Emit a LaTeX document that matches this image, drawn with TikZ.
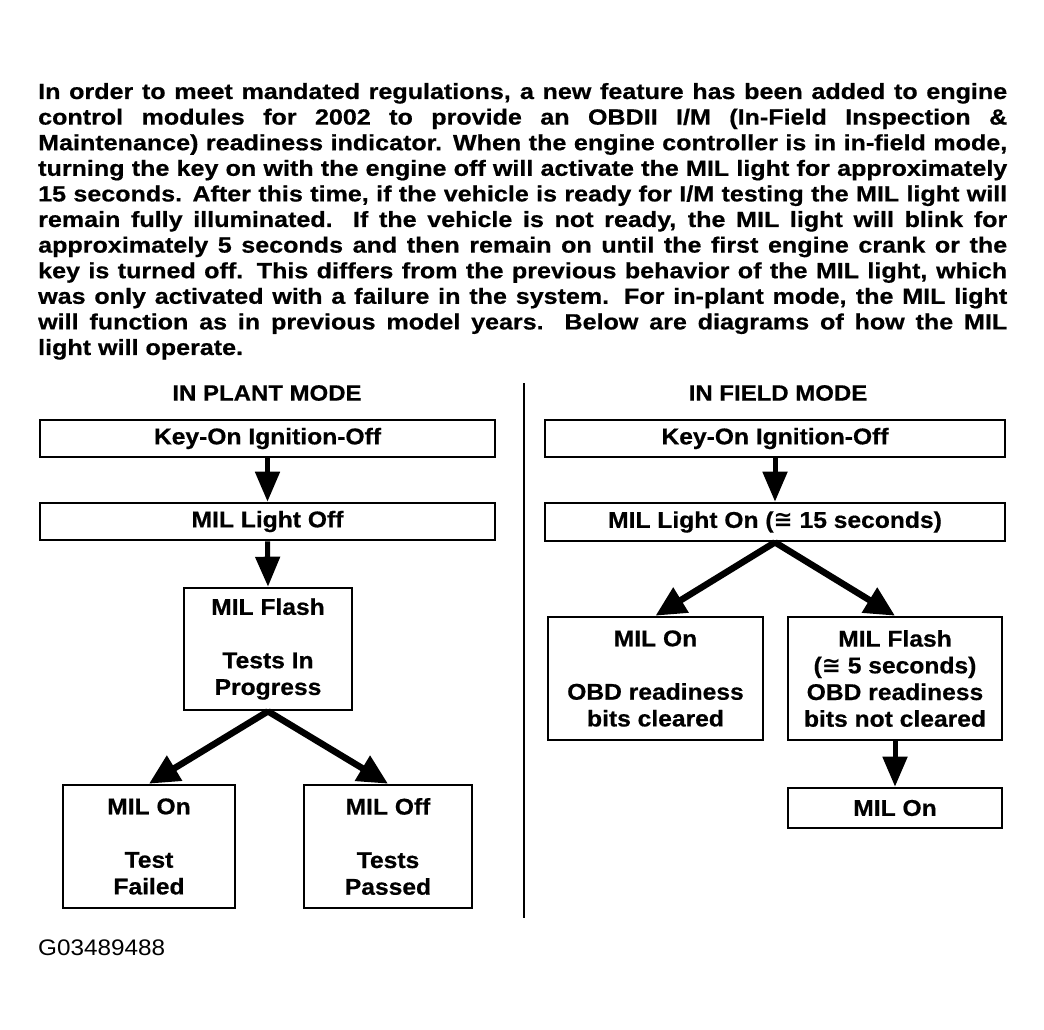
\documentclass[tikz,border=0pt]{standalone}
\usepackage{fontspec}
\setmainfont{Liberation Sans}[FakeStretch=1.08,BoldFeatures={FakeBold=0.6}]
\newfontfamily\parafont{Liberation Sans}[FakeStretch=1.14,BoldFeatures={FakeBold=0.6}]
\newfontfamily\symfont{DejaVu Sans}
\usetikzlibrary{arrows.meta}
\newcommand{\approxsym}{{\symfont\bfseries ≅}}
\begin{document}
\begin{tikzpicture}[x=1pt,y=-1pt,
  box/.style={draw, line width=2.6pt, inner sep=0pt, align=center,
    font=\fontsize{22.8}{26.7}\selectfont\bfseries},
  title/.style={font=\fontsize{22.2}{25}\selectfont\bfseries, inner sep=0pt},
  arr/.style={line width=5pt, -{Triangle[width=24pt,length=30pt]}},
  darr/.style={line width=6.5pt, -{Triangle[width=28pt,length=30pt]}}
]
\useasboundingbox[fill=white] (0,0) rectangle (1044,1030);

% paragraph
\node[anchor=base west, inner sep=0pt] (para) at (38,99) {\parbox[t]{969pt}{%
\parafont\fontsize{22}{25.6}\selectfont\bfseries
\hyphenpenalty=10000
In order to meet mandated regulations, a new feature has been added to engine\linebreak
control modules for 2002 to provide an OBDII I/M (In-Field Inspection \&\linebreak
Maintenance) readiness indicator. When the engine controller is in in-field mode,\linebreak
turning the key on with the engine off will activate the MIL light for approximately\linebreak
15 seconds. After this time, if the vehicle is ready for I/M testing the MIL light will\linebreak
remain fully illuminated. If the vehicle is not ready, the MIL light will blink for\linebreak
approximately 5 seconds and then remain on until the first engine crank or the\linebreak
key is turned off. This differs from the previous behavior of the MIL light, which\linebreak
was only activated with a failure in the system. For in-plant mode, the MIL light\linebreak
will function as in previous model years. Below are diagrams of how the MIL\linebreak
light will operate.}};

% titles
\node[title] (tL) at (267,393) {IN PLANT MODE};
\node[title] (tR) at (778,393) {IN FIELD MODE};

% divider
\coordinate (d1) at (524,383);
\coordinate (d2) at (524,918);
\draw[line width=2.2pt] (d1) -- (d2);

% left column
\node[box, minimum width=455, minimum height=37] (L1) at (267.5,438.5) {Key-On Ignition-Off};
\node[box, minimum width=455, minimum height=37] (L2) at (267.5,521.5) {MIL Light Off};
\node[box, minimum width=168, minimum height=122] (L3) at (268,649) {MIL Flash\\[26.7pt]Tests In\\Progress};
\node[box, minimum width=172, minimum height=123] (L4) at (149,846.5) {MIL On\\[26.7pt]Test\\Failed};
\node[box, minimum width=168, minimum height=123] (L5) at (388,846.5) {MIL Off\\[26.7pt]Tests\\Passed};

\draw[arr] (L1.south) -- (L2.north);
\draw[arr] (L2.south) -- (L3.north);
\draw[darr] (L3.south) -- (L4.north);
\draw[darr] (L3.south) -- (L5.north);

% right column
\node[box, minimum width=460, minimum height=37] (R1) at (775,438.5) {Key-On Ignition-Off};
\node[box, minimum width=460, minimum height=38] (R2) at (775,522) {MIL Light On (\approxsym\ 15 seconds)};
\node[box, minimum width=215, minimum height=123] (R3) at (655.5,678.5) {MIL On\\[26.7pt]OBD readiness\\bits cleared};
\node[box, minimum width=214, minimum height=123] (R4) at (895,678.5) {MIL Flash\\(\approxsym\ 5 seconds)\\OBD readiness\\bits not cleared};
\node[box, minimum width=214, minimum height=40] (R5) at (895,808) {MIL On};

\draw[arr] (R1.south) -- (R2.north);
\draw[darr] (R2.south) -- (R3.north);
\draw[darr] (R2.south) -- (R4.north);
\draw[arr] (R4.south) -- (R5.north);

% figure code
\node[anchor=base west, inner sep=0pt, font=\fontsize{22.5}{26}\selectfont] (code) at (38,955) {G03489488};
\end{tikzpicture}
\end{document}
